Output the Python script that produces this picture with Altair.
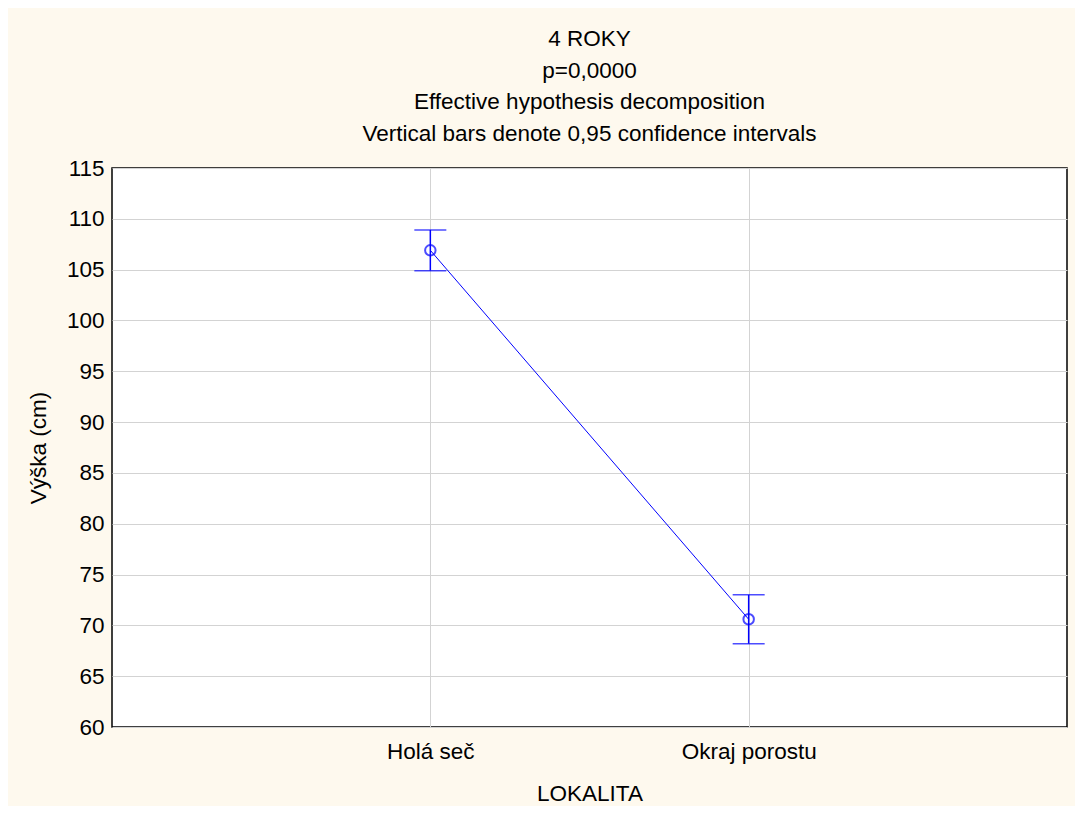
import altair as alt
import pandas as pd

categories = ["Holá seč", "Okraj porostu"]
means = [106.9, 70.6]
lower = [104.9, 68.2]
upper = [108.9, 73.0]

df = pd.DataFrame({"LOKALITA": categories, "mean": means, "lo": lower, "hi": upper})

FONT = "Liberation Sans"
BLUE = "#0000FF"
FS = 22.5

x = alt.X("LOKALITA:N", sort=categories,
          scale=alt.Scale(type="point", padding=1),
          axis=alt.Axis(title="LOKALITA", labelAngle=0, ticks=False, domain=False,
                        grid=True, gridColor="#D3D3D3", labelPadding=13, titlePadding=20,
                        labelFontSize=FS, titleFontSize=FS, labelFont=FONT, titleFont=FONT,
                        labelColor="black", titleColor="black", titleFontWeight="normal"))
y_axis = alt.Axis(title="Výška (cm)", values=list(range(60, 116, 5)), ticks=False, domain=False,
                  grid=True, gridColor="#D3D3D3", labelPadding=8, titlePadding=16,
                  labelFontSize=FS, titleFontSize=FS, labelFont=FONT, titleFont=FONT,
                  labelColor="black", titleColor="black", titleFontWeight="normal")
yscale = alt.Scale(domain=[60, 115], nice=False, zero=False)

base = alt.Chart(df)
line = base.mark_line(color=BLUE, strokeWidth=1).encode(
    x=x, y=alt.Y("mean:Q", scale=yscale, axis=y_axis))
err = base.mark_rule(color=BLUE, strokeWidth=1.5).encode(
    x=x, y=alt.Y("lo:Q", scale=yscale), y2="hi:Q")
cap_lo = base.mark_tick(color=BLUE, size=32, thickness=1.5).encode(
    x=x, y=alt.Y("lo:Q", scale=yscale))
cap_hi = base.mark_tick(color=BLUE, size=32, thickness=1.5).encode(
    x=x, y=alt.Y("hi:Q", scale=yscale))
pts = base.mark_point(color=BLUE, shape="circle", filled=False, size=110, strokeWidth=2).encode(
    x=x, y=alt.Y("mean:Q", scale=yscale))

chart = alt.layer(err, line, cap_lo, cap_hi, pts).properties(
    width=955, height=559,
    title=alt.TitleParams(
        text=["4 ROKY", "p=0,0000", "Effective hypothesis decomposition",
              "Vertical bars denote 0,95 confidence intervals"],
        font=FONT, fontSize=FS, fontWeight="normal", color="black",
        lineHeight=31.5, anchor="middle", offset=12),
    background="#FEF9EE",
    padding={"left": 104, "top": 160, "right": 8, "bottom": 79},
    autosize=alt.AutoSizeParams(type="none"),
).configure_view(stroke="black", strokeWidth=1.5, fill="white")

chart.save("out.html", embed_options={"renderer": "svg", "actions": False})
